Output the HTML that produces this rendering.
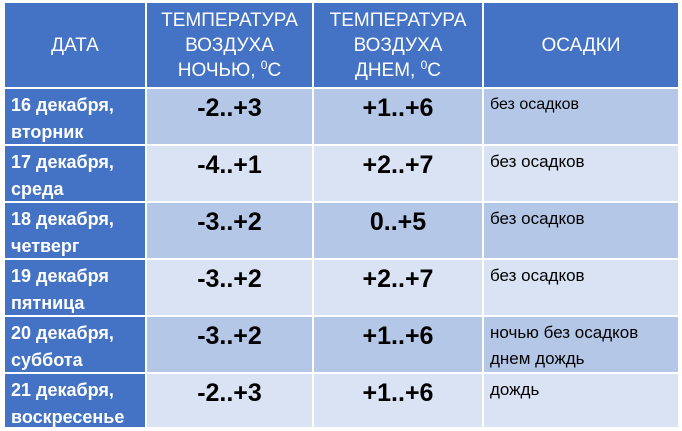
<!DOCTYPE html>
<html><head><meta charset="utf-8"><style>
body{margin:0;width:682px;height:430px;background:#fff;overflow:hidden;font-family:"Liberation Sans",Arial,sans-serif}
.c{position:absolute;box-sizing:border-box}
.h{background:#4472C4;color:#fff;font-size:19px;line-height:25px;text-align:center}
.d{background:#4472C4;color:#fff;font-weight:bold;font-size:18px;line-height:27px;padding:3px 0 0 6px}
.t{font-weight:bold;font-size:25px;text-align:center;padding-top:5px;color:#000}
.p{font-size:17px;line-height:26px;padding:3px 0 0 6px;color:#000}
.a{background:#B4C7E7}.b{background:#DAE3F3}
sup{font-size:12px;vertical-align:7px;line-height:0}
</style></head><body>
<div class="c h" style="left:5px;top:3px;width:140px;height:84px;padding-top:30px">ДАТА</div>
<div class="c h" style="left:147px;top:3px;width:165px;height:84px;padding-top:5px">ТЕМПЕРАТУРА<br>ВОЗДУХА<br>НОЧЬЮ, <sup>0</sup>С</div>
<div class="c h" style="left:314px;top:3px;width:168px;height:84px;padding-top:5px">ТЕМПЕРАТУРА<br>ВОЗДУХА<br>ДНЕМ, <sup>0</sup>С</div>
<div class="c h" style="left:484px;top:3px;width:194px;height:84px;padding-top:30px">ОСАДКИ</div>

<div class="c d" style="left:5px;top:89px;width:140px;height:55px">16 декабря,<br>вторник</div>
<div class="c t a" style="left:147px;top:89px;width:165px;height:55px">-2..+3</div>
<div class="c t a" style="left:314px;top:89px;width:168px;height:55px">+1..+6</div>
<div class="c p a" style="left:484px;top:89px;width:194px;height:55px;font-size:16px">без осадков</div>

<div class="c d" style="left:5px;top:146px;width:140px;height:55px">17 декабря,<br>среда</div>
<div class="c t b" style="left:147px;top:146px;width:165px;height:55px">-4..+1</div>
<div class="c t b" style="left:314px;top:146px;width:168px;height:55px">+2..+7</div>
<div class="c p b" style="left:484px;top:146px;width:194px;height:55px">без осадков</div>

<div class="c d" style="left:5px;top:203px;width:140px;height:55px">18 декабря,<br>четверг</div>
<div class="c t a" style="left:147px;top:203px;width:165px;height:55px">-3..+2</div>
<div class="c t a" style="left:314px;top:203px;width:168px;height:55px">0..+5</div>
<div class="c p a" style="left:484px;top:203px;width:194px;height:55px">без осадков</div>

<div class="c d" style="left:5px;top:260px;width:140px;height:55px">19 декабря<br>пятница</div>
<div class="c t b" style="left:147px;top:260px;width:165px;height:55px">-3..+2</div>
<div class="c t b" style="left:314px;top:260px;width:168px;height:55px">+2..+7</div>
<div class="c p b" style="left:484px;top:260px;width:194px;height:55px">без осадков</div>

<div class="c d" style="left:5px;top:317px;width:140px;height:55px">20 декабря,<br>суббота</div>
<div class="c t a" style="left:147px;top:317px;width:165px;height:55px">-3..+2</div>
<div class="c t a" style="left:314px;top:317px;width:168px;height:55px">+1..+6</div>
<div class="c p a" style="left:484px;top:317px;width:194px;height:55px">ночью без осадков<br>днем дождь</div>

<div class="c d" style="left:5px;top:374px;width:140px;height:53px">21 декабря,<br>воскресенье</div>
<div class="c t b" style="left:147px;top:374px;width:165px;height:53px">-2..+3</div>
<div class="c t b" style="left:314px;top:374px;width:168px;height:53px">+1..+6</div>
<div class="c p b" style="left:484px;top:374px;width:194px;height:53px">дождь</div>
</body></html>
